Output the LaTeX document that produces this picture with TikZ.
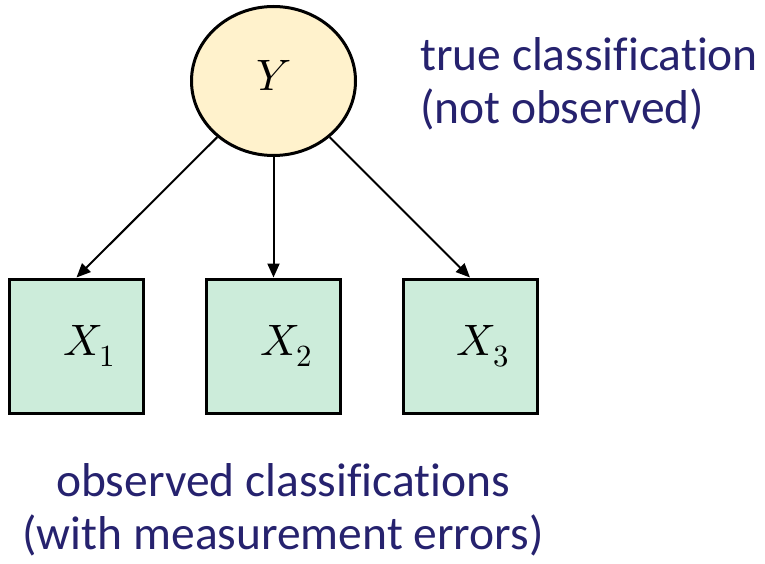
\documentclass[tikz,border=0pt]{standalone}
\usepackage{fontspec}
\usepackage{unicode-math}
\setmainfont{Carlito}[Ligatures=NoCommon]
\usetikzlibrary{shapes.geometric,arrows.meta}
\definecolor{navy}{RGB}{38,34,110}
\definecolor{yfill}{RGB}{255,242,204}
\definecolor{xfill}{RGB}{204,236,218}
\tikzset{
  latent/.style={ellipse, draw=black, line width=3pt, fill=yfill, minimum width=164pt, minimum height=149pt, inner sep=0pt, font=\fontsize{44}{54}\selectfont},
  obs/.style={rectangle, draw=black, line width=3pt, fill=xfill, minimum width=134pt, minimum height=134pt, inner sep=0pt, font=\fontsize{44}{54}\selectfont},
  edge/.style={line width=2pt, -{Triangle[length=14pt,width=12pt]}},
  note/.style={text=navy, font=\fontsize{47.5}{53}\selectfont, inner sep=0pt}
}
\begin{document}
\begin{tikzpicture}[x=1pt,y=-1pt]
\useasboundingbox (0,0) rectangle (765,564);
\node[latent] (Y) at (273.5,81) {$Y$\vphantom{$X_1$}};
\node[obs] (X1) at (76.5,346) {\hspace*{26pt}$X_1$};
\node[obs] (X2) at (273.5,346) {\hspace*{26pt}$X_2$};
\node[obs] (X3) at (470,346) {\hspace*{26pt}$X_3$};
\draw[edge] (Y) -- (X1.north);
\draw[edge] (Y) -- (X2.north);
\draw[edge] (Y) -- (X3.north);
\node[note, align=left, anchor=west] (top) at (420,84) {true classification\\(not observed)};
\node[note, align=center] (bot) at (283,510) {observed classifications\\(with measurement errors)};
\end{tikzpicture}
\end{document}
